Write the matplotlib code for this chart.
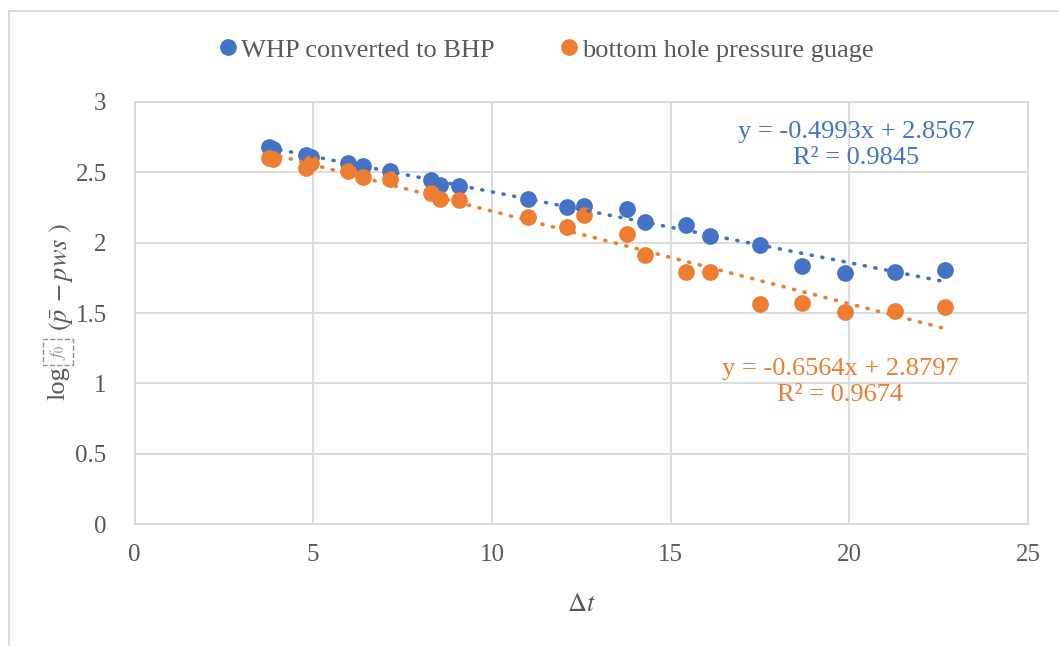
import numpy as np
import matplotlib
matplotlib.use("Agg")
import matplotlib.pyplot as plt
from matplotlib.lines import Line2D

plt.rcParams['font.family'] = ['Liberation Serif', 'DejaVu Serif']
plt.rcParams['mathtext.fontset'] = 'stix'

# ─── data ────────────────────────────────────────────────────────────────────
dt = [3.77, 3.88, 4.80, 4.93, 5.98, 6.40, 7.15, 8.30, 8.55, 9.09, 11.00,
      12.09, 12.58, 13.79, 14.29, 15.43, 16.10, 17.49, 18.67, 19.88, 21.29, 22.69]
whp_bhp = [2.675, 2.664, 2.620, 2.610, 2.562, 2.543, 2.510, 2.444, 2.408, 2.403,
           2.309, 2.250, 2.259, 2.238, 2.143, 2.125, 2.048, 1.980, 1.833, 1.786,
           1.788, 1.805]
gauge = [2.600, 2.593, 2.527, 2.562, 2.510, 2.467, 2.449, 2.353, 2.309, 2.302,
         2.183, 2.112, 2.195, 2.060, 1.911, 1.789, 1.789, 1.564, 1.568, 1.507,
         1.512, 1.542]
series_names = ['WHP converted to BHP', 'bottom hole pressure guage']
eq_texts = ['y = -0.4993x + 2.8567\nR² = 0.9845',
            'y = -0.6564x + 2.8797\nR² = 0.9674']

BLUE = '#4472C4'
ORANGE = '#ED7D31'
GRID = '#D9D9D9'
TXT = '#595959'

W, H = 1059, 646
fig = plt.figure(figsize=(W / 100, H / 100), dpi=100)
ax = fig.add_axes([134.5 / W, 1 - 524.3 / H, (1028 - 134.5) / W, (524.3 - 101.7) / H])

x = np.array(dt)
for yvals, col in [(whp_bhp, BLUE), (gauge, ORANGE)]:
    ax.scatter(x, yvals, s=145, color=col, zorder=3, linewidths=0)

# linear trendlines (dotted, drawn above the points like Excel)
xs = np.array([x.min(), x.max()])
for yvals, col in [(whp_bhp, BLUE), (gauge, ORANGE)]:
    k, b = np.polyfit(x, yvals, 1)
    ax.plot(xs, k * xs + b, color=col, lw=2.6, linestyle=(0, (0.3, 2.7)),
            dash_capstyle='round', zorder=4)

ax.set_xlim(0, 25)
ax.set_ylim(0, 3)
ax.set_xticks(np.arange(0, 26, 5))
ax.set_yticks(np.arange(0, 3.01, 0.5))
ax.set_yticklabels(['0', '0.5', '1', '1.5', '2', '2.5', '3'])
ax.grid(True, color=GRID, lw=1.3)
ax.set_axisbelow(True)
for sp in ax.spines.values():
    sp.set_color(GRID)
    sp.set_linewidth(1.3)
ax.tick_params(length=0, labelsize=18, colors=TXT)
ax.tick_params(axis='y', pad=20)
ax.tick_params(axis='x', pad=14)

ax.set_xlabel(r'$\Delta t$', fontsize=19, color=TXT, labelpad=20)

# equation labels
ax.text(20.19, 2.69, eq_texts[0], color=BLUE, fontsize=19, ha='center',
        va='center', linespacing=1.25)
ax.text(19.74, 1.01, eq_texts[1], color=ORANGE, fontsize=19, ha='center',
        va='center', linespacing=1.25)

# y label pieces (log + placeholder box + argument)
fig.text(58 / W, 1 - 400 / H, 'log', rotation=90, fontsize=19, color=TXT,
         ha='center', va='bottom')
fig.text(58 / W, 1 - 360 / H, r'$f_0$', rotation=90, fontsize=13, color='#909090',
         ha='center', va='bottom',
         bbox=dict(boxstyle='square,pad=0.3', fc='none', ec='#909090',
                   ls='--', lw=1))
fig.text(61 / W, 1 - 331 / H, r'$(\bar{p}\,-pws\ )$', rotation=90, fontsize=19,
         color=TXT, ha='center', va='bottom')

# legend
handles = [Line2D([], [], marker='o', ls='none', color=c, markersize=11)
           for c in (BLUE, ORANGE)]
fig.legend(handles, series_names, loc='center', bbox_to_anchor=(544 / W, 1 - 50 / H),
           ncol=2, frameon=False, fontsize=19, handletextpad=0.0,
           columnspacing=2.3, handlelength=1.0, labelcolor=TXT)

# chart area border (left and top edges visible)
fig.add_artist(Line2D([9 / W, 9 / W], [0, 1 - 11 / H], transform=fig.transFigure,
                      color=GRID, lw=1.3))
fig.add_artist(Line2D([9 / W, 1], [1 - 11 / H, 1 - 11 / H], transform=fig.transFigure,
                      color=GRID, lw=1.3))

fig.savefig('out.png', dpi=100)
